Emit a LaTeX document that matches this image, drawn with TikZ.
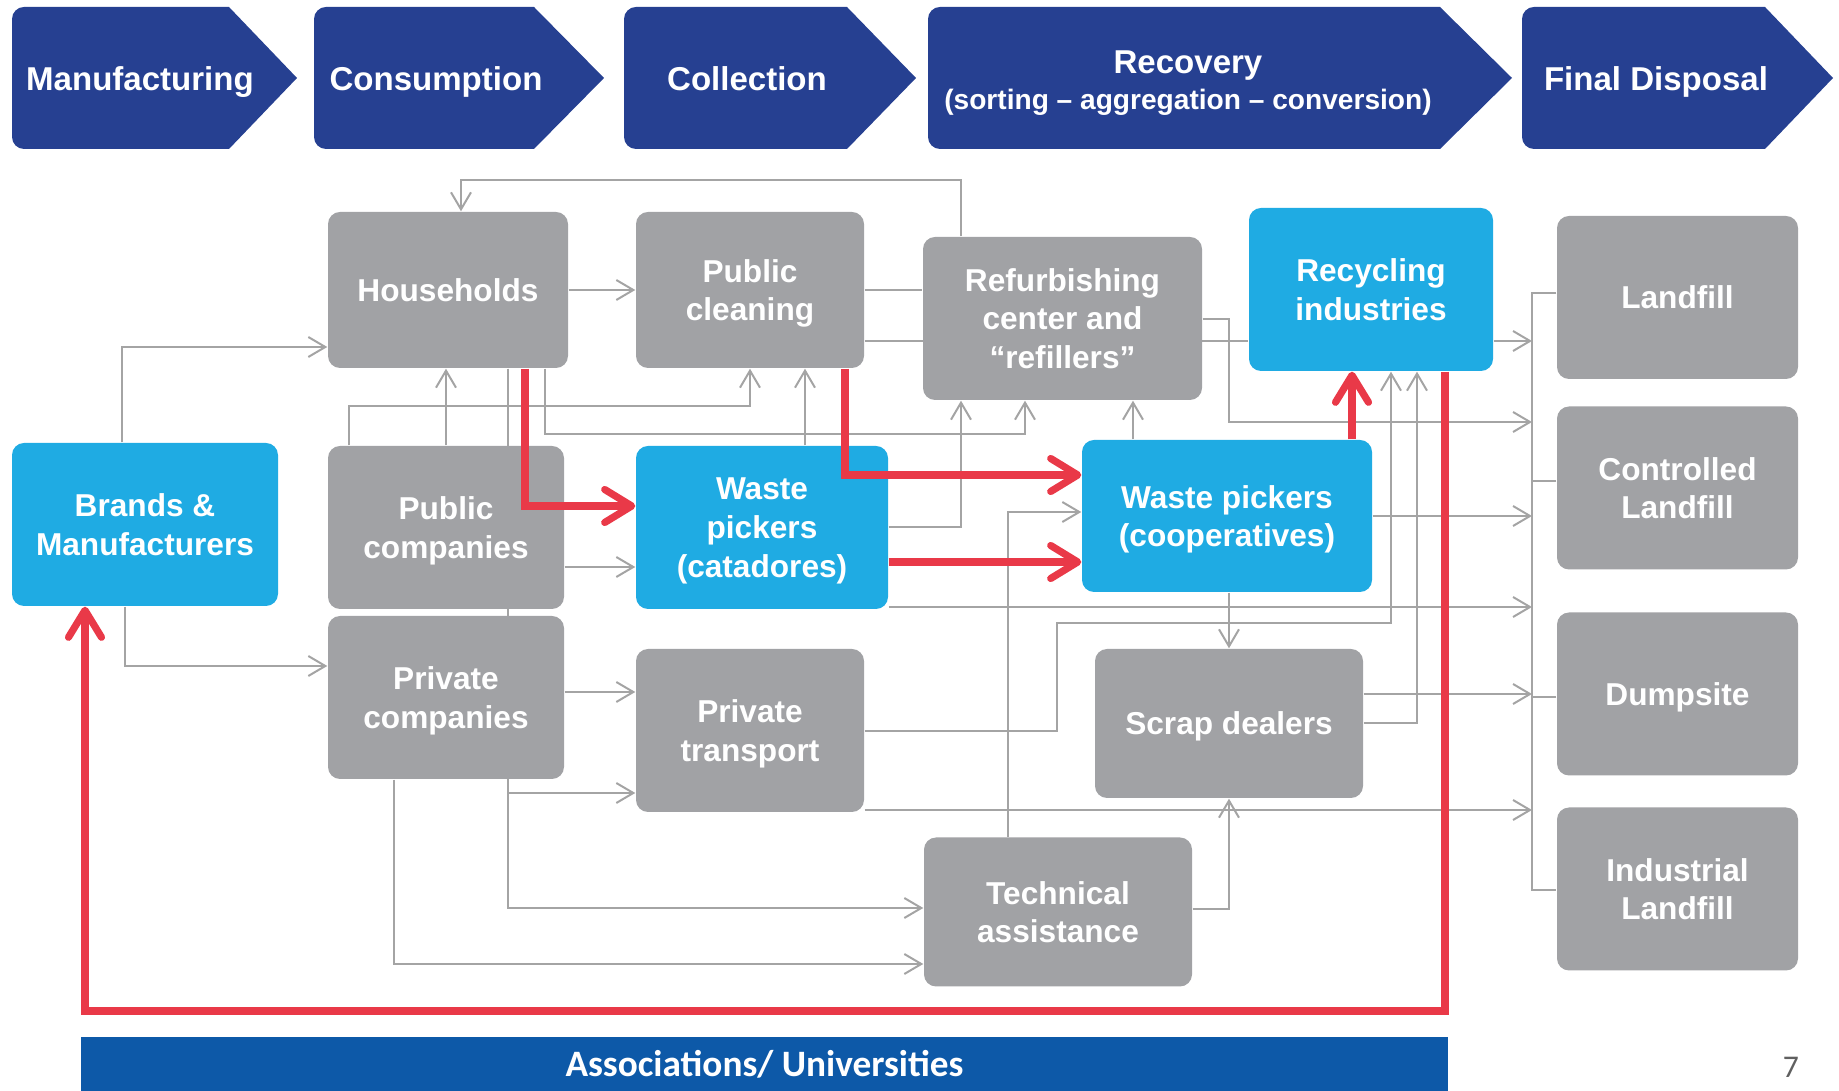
\documentclass[tikz,border=0pt]{standalone}
\usepackage{fontspec}
\setmainfont{Liberation Sans}
\newfontfamily\barfont{Carlito}
\usepackage{xcolor}
\usetikzlibrary{arrows.meta,positioning,backgrounds}
\definecolor{stageblue}{HTML}{264091}
\definecolor{barblue}{HTML}{0D59A8}
\definecolor{boxgray}{HTML}{A1A2A5}
\definecolor{actorblue}{HTML}{1FABE3}
\definecolor{flowred}{HTML}{E93948}
\definecolor{linegray}{HTML}{A4A4A4}
\definecolor{numgray}{HTML}{606060}

\begin{document}
\begin{tikzpicture}[x = 0.1mm, y = -0.1mm,
	box/.style = {rounded corners = 1.2mm, fill = boxgray, text = white, align = center, inner sep = 0pt, text depth = 0pt, font = \fontsize{9}{11}\selectfont\bfseries},
	actor/.style = {box, fill = actorblue},
	stage/.style = {text = white, align = center, inner sep = 0pt, text depth = 0pt, font = \fontsize{9.4}{10.2}\selectfont\bfseries},
	garr/.style = {draw = linegray, line width = 0.2mm, -{Straight Barb[length = 1.7mm, width = 2mm]}},
	gline/.style = {draw = linegray, line width = 0.2mm},
	gthin/.style = {draw = linegray, line width = 0.14mm},
	rarr/.style = {draw = flowred, line width = 0.72mm, -{Straight Barb[length = 2.7mm, width = 3.3mm, round]}}]
	\useasboundingbox (0,0) rectangle (1839,1091);

	\fill[stageblue] (120,7) -- (229,7) -- (297,78) -- (229,149) -- (120,149) [rounded corners = 1.2mm] -- (12,149) -- (12,7) -- cycle;
	\fill[stageblue] (424,7) -- (534,7) -- (604,78) -- (534,149) -- (424,149) [rounded corners = 1.2mm] -- (314,149) -- (314,7) -- cycle;
	\fill[stageblue] (735,7) -- (847,7) -- (916,78) -- (847,149) -- (735,149) [rounded corners = 1.2mm] -- (624,149) -- (624,7) -- cycle;
	\fill[stageblue] (1184,7) -- (1440,7) -- (1512,78) -- (1440,149) -- (1184,149) [rounded corners = 1.2mm] -- (928,149) -- (928,7) -- cycle;
	\fill[stageblue] (1643,7) -- (1765,7) -- (1833,78) -- (1765,149) -- (1643,149) [rounded corners = 1.2mm] -- (1522,149) -- (1522,7) -- cycle;
	\node[stage](manuf) at (140,79){Manufacturing};
	\node[stage](consum) at (436,79){Consumption};
	\node[stage](collect) at (747,79){Collection};
	\node[stage](recov) at (1188,80){Recovery\\{\fontsize{8}{10}\selectfont(sorting – aggregation – conversion)}};
	\node[stage](finaldisp) at (1656,79){Final Disposal};

	\node[box, minimum width = 24mm, minimum height = 15.6mm](hh) at (448,290){Households};
	\node[box, minimum width = 22.8mm, minimum height = 15.6mm](pcl) at (750,290){Public\\cleaning};
	\node[box, minimum width = 27.9mm, minimum height = 16.3mm](refurb) at (1062.5,318.5){Refurbishing\\center and\\“refillers”};
	\node[actor, minimum width = 24.4mm, minimum height = 16.3mm](recyc) at (1371,289.5){Recycling\\industries};
	\node[box, minimum width = 24.1mm, minimum height = 16.3mm](landfill) at (1677.5,297.5){Landfill};
	\node[actor, minimum width = 26.6mm, minimum height = 16.3mm](brands) at (145,524.5){Brands \&\\Manufacturers};
	\node[box, minimum width = 23.6mm, minimum height = 16.3mm](pubco) at (446,527.5){Public\\companies};
	\node[actor, minimum width = 25.2mm, minimum height = 16.3mm](wpcat) at (762,527.5){Waste\\pickers\\(catadores)};
	\node[actor, minimum width = 29mm, minimum height = 15.2mm](wpcoop) at (1227,516){Waste pickers\\(cooperatives)};
	\node[box, minimum width = 24.1mm, minimum height = 16.3mm](ctrl) at (1677.5,488){Controlled\\Landfill};
	\node[box, minimum width = 23.6mm, minimum height = 16.3mm](privco) at (446,697.5){Private\\companies};
	\node[box, minimum width = 22.8mm, minimum height = 16.3mm](ptrans) at (750,730.5){Private\\transport};
	\node[box, minimum width = 26.8mm, minimum height = 14.9mm](scrap) at (1229,723.5){Scrap dealers};
	\node[box, minimum width = 26.8mm, minimum height = 14.9mm](techas) at (1058,912){Technical\\assistance};
	\node[box, minimum width = 24.1mm, minimum height = 16.3mm](dump) at (1677.5,694){Dumpsite};
	\node[box, minimum width = 24.1mm, minimum height = 16.3mm](indland) at (1677.5,889){Industrial\\Landfill};
	\coordinate(bus) at (1532,293);

	\node[fill = barblue, text = white, minimum width = 136.7mm, minimum height = 5.4mm, inner sep = 0pt, font = \barfont\fontsize{10.6}{12}\selectfont\bfseries](assoc) at (764.5,1064){Associations/ Universities};
	\node[text = numgray, font = \barfont\fontsize{9}{11}\selectfont](pagenum) at (1791,1067){7};

	\begin{pgfonlayer}{background}
	\draw[garr] (refurb.north-|961,0) |- (461,180) -- (hh.north-|461,0);
	\draw[garr] (hh) -- (pcl);
	\draw[garr] (brands.north-|122,0) |- (hh.west|-0,347);
	\draw[garr] (pubco.north-|446,0) -- (hh.south-|446,0);
	\draw[garr] (pubco.north-|349,0) |- (750,406) -- (pcl.south);
	\draw[garr] (hh.south-|508,0) |- (ptrans.west|-0,793);
	\draw[garr] (hh.south-|508,0) |- (techas.west|-0,908);
	\draw[garr] (hh.south-|545,0) |- (1025,434) -- (refurb.south-|1025,0);
	\draw[garr] (wpcat.north-|805,0) -- (pcl.south-|805,0);
	\draw[gline] (pcl.east) -- (refurb.west|-pcl.east);
	\draw[gline] (pcl.east|-0,341) -- (recyc.west|-0,341);
	\draw[garr] (brands.south-|125,0) |- (privco.west|-0,666);
	\draw[garr] (pubco.east|-0,567) -- (wpcat.west|-0,567);
	\draw[garr] (privco.east|-0,692) -- (ptrans.west|-0,692);
	\draw[garr] (privco.south-|394,0) |- (techas.west|-0,964);
	\draw[garr] (wpcat.east|-0,527) -| (refurb.south-|961,0);
	\draw[garr] (wpcoop.north-|1133,0) -- (refurb.south-|1133,0);
	\draw[garr] (techas.north-|1008,0) |- (wpcoop.west|-0,512);
	\draw[garr] (wpcoop.south-|scrap.north) -- (scrap.north);
	\draw[garr] (techas.east|-0,909) -| (scrap.south);
	\draw[garr] (ptrans.east|-0,731) -| (1057,623) -| (recyc.south-|1391,0);
	\draw[garr] (scrap.east|-0,723) -| (recyc.south-|1417,0);
	\draw[garr] (recyc.east|-0,341) -- (bus|-0,341);
	\draw[garr] (refurb.east|-0,319) -| (1229,422) -- (bus|-0,422);
	\draw[garr] (wpcoop.east) -- (bus|-wpcoop.east);
	\draw[garr] (wpcat.east|-0,607) -- (bus|-0,607);
	\draw[garr] (scrap.east|-0,694) -- (bus|-0,694);
	\draw[garr] (ptrans.east|-0,810) -- (bus|-0,810);
	\draw[gthin] (landfill.west|-0,293) -- (bus) -- (bus|-0,890) -- (indland.west|-0,890);
	\draw[gthin] (ctrl.west|-0,481) -- (bus|-0,481);
	\draw[gthin] (dump.west|-0,697) -- (bus|-0,697);
	\end{pgfonlayer}

	\draw[rarr] (hh.south-|525,0) |- (wpcat.west|-0,506);
	\draw[rarr] (pcl.south-|845,0) |- (wpcoop.west|-0,475);
	\draw[rarr] (wpcat.east|-0,562) -- (wpcoop.west|-0,562);
	\draw[rarr] (wpcoop.north-|1352,0) -- (recyc.south-|1352,0);
	\draw[rarr] (recyc.south-|1445,0) |- (85,1011) -- (brands.south-|85,0);

\end{tikzpicture}
\end{document}
